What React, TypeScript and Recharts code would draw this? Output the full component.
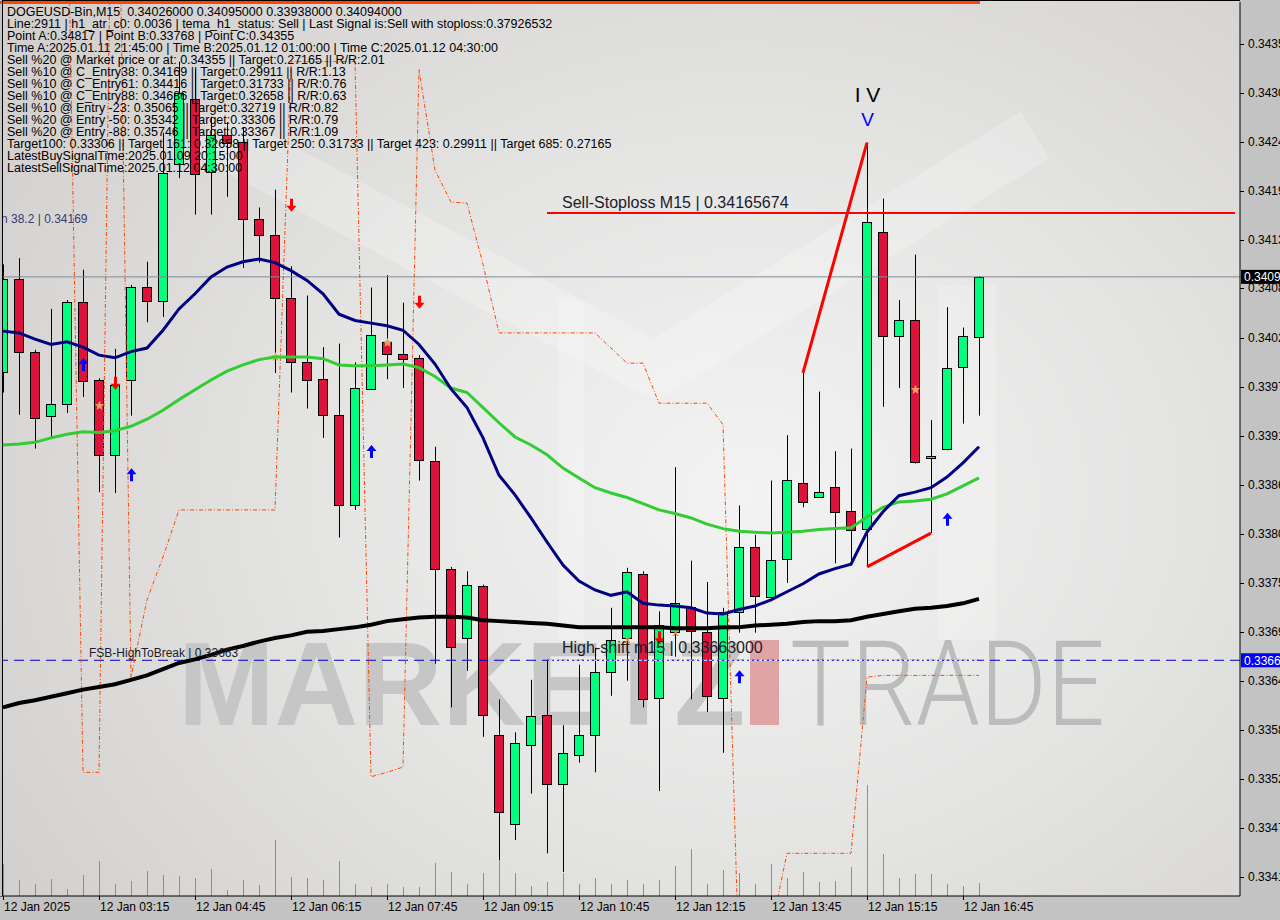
import React from 'react'
import { ComposedChart, Bar, Line, XAxis, YAxis, ReferenceLine, ReferenceDot } from 'recharts'

// DOGEUSD-Bin M15, 12 Jan 2025 01:45 .. 17:00
const timeLabels = ['12 Jan 2025', '12 Jan 03:15', '12 Jan 04:45', '12 Jan 06:15', '12 Jan 07:45', '12 Jan 09:15', '12 Jan 10:45', '12 Jan 12:15', '12 Jan 13:45', '12 Jan 15:15', '12 Jan 16:45']
const labelEvery = 6

const opens = [0.33987, 0.34092, 0.3401, 0.33938, 0.33951, 0.34066, 0.33978, 0.33894, 0.33978, 0.34083, 0.34067, 0.34221, 0.34294, 0.34212, 0.34254, 0.34246, 0.34159, 0.34141, 0.3407, 0.33998, 0.33979, 0.33939, 0.33837, 0.33968, 0.34021, 0.34007, 0.34003, 0.33887, 0.33766, 0.33688, 0.33747, 0.33579, 0.33479, 0.33568, 0.33601, 0.33524, 0.33557, 0.33579, 0.3365, 0.33688, 0.3376, 0.33621, 0.33695, 0.33723, 0.33695, 0.33621, 0.33717, 0.3379, 0.33734, 0.33777, 0.33862, 0.33847, 0.33858, 0.33831, 0.33811, 0.34145, 0.34027, 0.34046, 0.3389, 0.33901, 0.33993, 0.34026]
const highs = [0.34108, 0.34115, 0.34012, 0.34058, 0.34068, 0.34102, 0.3398, 0.34013, 0.34085, 0.34111, 0.34256, 0.34336, 0.34327, 0.34274, 0.34268, 0.34262, 0.34172, 0.34192, 0.34106, 0.34073, 0.34015, 0.34019, 0.33998, 0.34082, 0.34096, 0.34065, 0.34006, 0.33903, 0.33768, 0.33763, 0.33748, 0.33619, 0.33582, 0.33641, 0.33664, 0.3359, 0.33658, 0.33677, 0.33722, 0.33767, 0.33763, 0.33718, 0.3388, 0.33775, 0.33751, 0.33722, 0.33837, 0.33804, 0.33865, 0.33916, 0.33986, 0.33965, 0.33898, 0.33901, 0.34245, 0.34182, 0.34068, 0.34119, 0.33933, 0.3406, 0.34037, 0.34095]
const lows = [0.33964, 0.33939, 0.33901, 0.33914, 0.33941, 0.33959, 0.33852, 0.33851, 0.33938, 0.34043, 0.34049, 0.34205, 0.34164, 0.34164, 0.34184, 0.34104, 0.3411, 0.33986, 0.33964, 0.33946, 0.33913, 0.33801, 0.33832, 0.33967, 0.33979, 0.33969, 0.33865, 0.33659, 0.3361, 0.33651, 0.33577, 0.33438, 0.33461, 0.33513, 0.33446, 0.33425, 0.33548, 0.33537, 0.33623, 0.3364, 0.3361, 0.33516, 0.33667, 0.33619, 0.33605, 0.33559, 0.33694, 0.33694, 0.33733, 0.3375, 0.33835, 0.33846, 0.33772, 0.33772, 0.33768, 0.33948, 0.33969, 0.33884, 0.33806, 0.33899, 0.33929, 0.33938]
const closes = [0.34092, 0.3401, 0.33935, 0.33951, 0.34066, 0.33977, 0.33894, 0.33973, 0.34083, 0.34067, 0.34211, 0.34301, 0.3421, 0.34254, 0.34244, 0.34159, 0.34141, 0.3407, 0.33998, 0.33978, 0.33939, 0.33837, 0.33969, 0.34029, 0.34007, 0.34002, 0.33888, 0.33766, 0.33678, 0.33748, 0.33601, 0.33492, 0.3357, 0.336, 0.33524, 0.33559, 0.33579, 0.3365, 0.33686, 0.33762, 0.33619, 0.33703, 0.33727, 0.33696, 0.33623, 0.33717, 0.3379, 0.33735, 0.33776, 0.33866, 0.33841, 0.33852, 0.3383, 0.3381, 0.34156, 0.34027, 0.34046, 0.33886, 0.33893, 0.33992, 0.34027, 0.34094]
const tickVolume = [320, 160, 120, 170, 70, 210, 350, 120, 150, 250, 210, 200, 180, 270, 60, 160, 110, 560, 190, 180, 160, 350, 120, 90, 120, 90, 90, 330, 240, 120, 230, 350, 230, 100, 140, 230, 120, 180, 120, 160, 120, 160, 300, 470, 120, 260, 230, 120, 320, 180, 240, 140, 150, 290, 1110, 420, 180, 220, 220, 120, 100, 130]

const maFast = [0.34033, 0.34031, 0.34024, 0.34018, 0.34021, 0.34015, 0.34006, 0.34003, 0.3401, 0.34014, 0.34034, 0.34058, 0.34075, 0.34094, 0.34105, 0.34111, 0.34114, 0.3411, 0.34101, 0.3409, 0.34075, 0.34052, 0.34045, 0.34042, 0.34039, 0.34034, 0.34018, 0.33996, 0.33968, 0.33947, 0.33913, 0.33871, 0.33849, 0.33823, 0.33796, 0.3377, 0.33752, 0.33742, 0.33736, 0.3374, 0.33727, 0.33725, 0.33724, 0.33722, 0.33716, 0.33715, 0.3372, 0.33724, 0.33731, 0.3374, 0.33749, 0.3376, 0.33766, 0.33771, 0.33807, 0.3383, 0.33848, 0.33852, 0.33857, 0.33869, 0.33885, 0.33903]
const maMid = [0.33905, 0.33906, 0.33908, 0.33913, 0.33917, 0.3392, 0.33919, 0.33921, 0.33926, 0.33934, 0.33944, 0.33956, 0.33967, 0.33978, 0.33988, 0.33995, 0.34001, 0.34004, 0.34004, 0.34004, 0.34002, 0.33995, 0.33994, 0.33994, 0.33995, 0.33996, 0.33992, 0.33982, 0.33969, 0.33964, 0.33947, 0.3393, 0.33914, 0.33905, 0.33894, 0.33879, 0.33868, 0.33857, 0.33851, 0.33846, 0.33839, 0.33832, 0.33828, 0.33823, 0.33816, 0.33811, 0.33808, 0.33807, 0.33806, 0.33807, 0.33808, 0.3381, 0.33811, 0.33812, 0.33824, 0.33835, 0.33841, 0.33842, 0.33844, 0.3385, 0.33859, 0.33868]
const maSlow = [0.3361, 0.33615, 0.33618, 0.33622, 0.33626, 0.3363, 0.33633, 0.33636, 0.33641, 0.33646, 0.33653, 0.3366, 0.33664, 0.33669, 0.33675, 0.33679, 0.33684, 0.33688, 0.33691, 0.33695, 0.33696, 0.33698, 0.337, 0.33703, 0.33707, 0.33709, 0.33711, 0.33712, 0.33712, 0.33711, 0.33708, 0.33707, 0.33706, 0.33705, 0.33704, 0.33702, 0.337, 0.337, 0.337, 0.337, 0.337, 0.337, 0.33699, 0.33699, 0.33699, 0.337, 0.337, 0.33702, 0.33703, 0.33704, 0.33706, 0.33707, 0.33707, 0.33708, 0.33712, 0.33715, 0.33718, 0.33721, 0.33722, 0.33724, 0.33727, 0.33732]
const stopBand = [0.34574, 0.34574, 0.34574, 0.34574, 0.34574, 0.33537, 0.33537, 0.34855, 0.33644, 0.33731, 0.33779, 0.33832, 0.33832, 0.33832, 0.33832, 0.33832, 0.33832, 0.33832, 0.34336, 0.34336, 0.34336, 0.34336, 0.34336, 0.33532, 0.33537, 0.33543, 0.34327, 0.34214, 0.34178, 0.34177, 0.34108, 0.34031, 0.34031, 0.34031, 0.34031, 0.34031, 0.34031, 0.34031, 0.34014, 0.33997, 0.33997, 0.33952, 0.33952, 0.33952, 0.33952, 0.33928, 0.33319, 0.33326, 0.3336, 0.33446, 0.33446, 0.33446, 0.33446, 0.33446, 0.33644, 0.33646, 0.33646, 0.33646, 0.33646, 0.33646, 0.33646, 0.33646]

const buyArrowBars = [5, 8, 23, 46, 59]
const buyArrowPrices = [0.33995, 0.33871, 0.33897, 0.33644, 0.33821]
const sellArrowBars = [7, 18, 26, 41]
const sellArrowPrices = [0.33975, 0.34175, 0.34066, 0.33689]
const starBars = [6, 17, 24, 57]
const starPrices = [0.33949, 0.34004, 0.3402, 0.33967]
const crossBars = [39, 42]
const crossPrices = [0.33687, 0.33695]

const waveHighBars = [50, 54]
const waveHighPrices = [0.33986, 0.34245]
const waveLowBars = [54, 58]
const waveLowPrices = [0.33768, 0.33806]
const waveLabelBar = 54

const sellStoploss = 0.34165674
const highShift = 0.33663
const lastPrice = 0.34094
const fibLevel = 0.34169

const yTicks = [0.33419, 0.33474, 0.33529, 0.33585, 0.3364, 0.33695, 0.3375, 0.33805, 0.3386, 0.33915, 0.3397, 0.34025, 0.34081, 0.34136, 0.34191, 0.34246, 0.34301, 0.34356]

const infoLines = [
  'DOGEUSD-Bin,M15  0.34026000 0.34095000 0.33938000 0.34094000',
  'Line:2911 | h1_atr_c0: 0.0036 | tema_h1_status: Sell | Last Signal is:Sell with stoploss:0.37926532',
  'Point A:0.34817 | Point B:0.33768 | Point C:0.34355',
  'Time A:2025.01.11 21:45:00 | Time B:2025.01.12 01:00:00 | Time C:2025.01.12 04:30:00',
  'Sell %20 @ Market price or at: 0.34355 || Target:0.27165 || R/R:2.01',
  'Sell %10 @ C_Entry38: 0.34169 || Target:0.29911 || R/R:1.13',
  'Sell %10 @ C_Entry61: 0.34416 || Target:0.31733 || R/R:0.76',
  'Sell %10 @ C_Entry88: 0.34686 || Target:0.32658 || R/R:0.63',
  'Sell %10 @ Entry -23: 0.35065 || Target:0.32719 || R/R:0.82',
  'Sell %20 @ Entry -50: 0.35342 || Target:0.33306 || R/R:0.79',
  'Sell %20 @ Entry -88: 0.35746 || Target:0.33367 || R/R:1.09',
  'Target100: 0.33306 || Target 161: 0.32658 || Target 250: 0.31733 || Target 423: 0.29911 || Target 685: 0.27165',
  'LatestBuySignalTime:2025.01.09 20:15:00',
  'LatestSellSignalTime:2025.01.12 04:30:00',
]

const SLOTS = 78 // 62 bars + chart shift on the right

const pick = (bars: number[], prices: number[], i: number) => {
  const k = bars.indexOf(i)
  return k < 0 ? null : prices[k]
}

const rows = Array.from({ length: SLOTS }, (_, i) => {
  const has = i < opens.length
  return {
    i,
    hl: has ? [lows[i], highs[i]] : null,
    open: has ? opens[i] : null,
    high: has ? highs[i] : null,
    low: has ? lows[i] : null,
    close: has ? closes[i] : null,
    vol: has ? tickVolume[i] : null,
    fast: has ? maFast[i] : null,
    mid: has ? maMid[i] : null,
    slow: has ? maSlow[i] : null,
    band: has ? stopBand[i] : null,
    up: pick(buyArrowBars, buyArrowPrices, i),
    down: pick(sellArrowBars, sellArrowPrices, i),
    star: pick(starBars, starPrices, i),
    cross: pick(crossBars, crossPrices, i),
    zzHigh: pick(waveHighBars, waveHighPrices, i),
    zzLow: pick(waveLowBars, waveLowPrices, i),
    wave: i === waveLabelBar,
  }
})

const FONT = '"Liberation Sans", Arial, sans-serif'

const upArrow = (x: number, y: number) =>
  `M${x},${y - 7} L${x + 5},${y - 1} L${x + 1.5},${y - 1} L${x + 1.5},${y + 6} L${x - 1.5},${y + 6} L${x - 1.5},${y - 1} L${x - 5},${y - 1} Z`
const downArrow = (x: number, y: number) =>
  `M${x},${y + 7} L${x + 5},${y + 1} L${x + 1.5},${y + 1} L${x + 1.5},${y - 6} L${x - 1.5},${y - 6} L${x - 1.5},${y + 1} L${x - 5},${y + 1} Z`
const starPath = (x: number, y: number) => {
  let d = ''
  for (let k = 0; k < 10; k++) {
    const r = k % 2 === 0 ? 5 : 2.2
    const a = -Math.PI / 2 + (k * Math.PI) / 5
    d += `${k === 0 ? 'M' : 'L'}${x + r * Math.cos(a)},${y + r * Math.sin(a)} `
  }
  return d + 'Z'
}

function Candle(props: any) {
  const { x, y, width, height, payload } = props
  if (!payload || payload.open == null || !height) return null
  const k = height / (payload.high - payload.low)
  const py = (v: number) => y + (payload.high - v) * k
  const cx = Math.round(x + width / 2) + 0.5
  const bull = payload.close >= payload.open
  const top = Math.round(py(Math.max(payload.open, payload.close))) + 0.5
  const bot = Math.round(py(Math.min(payload.open, payload.close))) + 0.5
  const left = Math.round(x) + 0.5
  return (
    <g>
      <line x1={cx} x2={cx} y1={y} y2={y + height} stroke="#000" strokeWidth={1} />
      <rect x={left} y={top} width={width - 1} height={Math.max(bot - top, 1)} fill={bull ? '#00ff7f' : '#dc143c'} stroke="#000" strokeWidth={1} />
      {payload.star != null && <path d={starPath(cx, py(payload.star))} fill="#e2a55c" />}
      {payload.cross != null && (
        <text x={cx} y={py(payload.cross) + 4} textAnchor="middle" fontSize={11} fontWeight="bold" fill="#f08a30" fontFamily={FONT}>x</text>
      )}
      {payload.up != null && <path d={upArrow(cx, py(payload.up))} fill="#0000ff" />}
      {payload.down != null && <path d={downArrow(cx, py(payload.down))} fill="#ff0000" />}
      {payload.wave && (
        <g fontFamily={FONT} textAnchor="middle">
          <text x={cx} y={y - 41} fontSize={21} fill="#000">I V</text>
          <text x={cx} y={y - 17} fontSize={19} fill="#0000ff">V</text>
        </g>
      )}
    </g>
  )
}

function VolumeTick(props: any) {
  const { x, y, width, height, payload } = props
  if (!payload || payload.vol == null) return null
  const cx = Math.round(x + width / 2) + 0.5
  return <line x1={cx} x2={cx} y1={y} y2={y + height} stroke="#32cd32" strokeWidth={1} />
}

function XTick(props: any) {
  const { x, y, payload } = props
  const idx = payload.value
  if (idx % labelEvery !== 0 || idx / labelEvery >= timeLabels.length) return <g />
  const lx = Math.round(x) + 0.5
  return (
    <g>
      <line x1={lx} x2={lx} y1={y - 4} y2={y} stroke="#000" />
      <text x={x + 1} y={y + 11} fontSize={12} fill="#000" fontFamily={FONT}>{timeLabels[idx / labelEvery]}</text>
    </g>
  )
}

function YTick(props: any) {
  const { x, y, payload } = props
  const ly = Math.round(y) + 0.5
  return (
    <g>
      <line x1={x - 4} x2={x} y1={ly} y2={ly} stroke="#000" />
      <text x={x + 4} y={y + 4} fontSize={12} fill="#000" fontFamily={FONT}>{payload.value.toFixed(5)}</text>
    </g>
  )
}

const priceTag = (text: string, bg: string) => (p: any) => {
  const vb = p.viewBox
  if (!vb) return null
  const x = vb.x + vb.width + 1
  return (
    <g>
      <rect x={x} y={vb.y - 7} width={44} height={14} fill={bg} />
      <text x={x + 3} y={vb.y + 4.5} fontSize={12} fill="#fff" fontFamily={FONT}>{text}</text>
    </g>
  )
}

const lineText = (text: string, dx: number, dy: number, size: number) => (p: any) => {
  const vb = p.viewBox
  if (!vb) return null
  return (
    <text x={vb.x + dx} y={vb.y + dy} fontSize={size} fill="#1c1c2a" fontFamily={FONT}>{text}</text>
  )
}

function Watermark() {
  return (
    <svg width={1280} height={920} style={{ position: 'absolute', left: 0, top: 0 }}>
      <polyline points="205,130 655,370 1035,135" fill="none" stroke="#ffffff" strokeOpacity={0.22} strokeWidth={55} strokeLinejoin="round" />
      <rect x={558} y={300} width={26} height={340} fill="#ffffff" opacity={0.22} />
      <rect x={938} y={285} width={58} height={355} fill="#ffffff" opacity={0.2} />
      <text x={178} y={725} fontFamily={FONT} fontWeight="bold" fontSize={119} textLength={567} lengthAdjust="spacingAndGlyphs" fill="#c6c6c6">MARKETZ</text>
      <rect x={750} y={640} width={29} height={85} fill="#e0a4a4" />
      <text x={790} y={725} fontFamily="Roboto, sans-serif" fontWeight={300} fontSize={119} textLength={315} lengthAdjust="spacingAndGlyphs" fill="#bcbcbc">TRADE</text>
    </svg>
  )
}

export default function App() {
  return (
    <div style={{ position: 'fixed', left: 0, top: 0, width: 1280, height: 920, overflow: 'hidden', background: '#c3c3c3', fontFamily: FONT }}>
      <div
        style={{
          position: 'absolute', left: 2, top: 1, width: 1238, height: 895,
          background: 'radial-gradient(ellipse 70% 80% at 60% 55%, #f3f3f3 0%, #e4e4e3 50%, #d3d1cf 100%)',
        }}
      />
      <Watermark />
      <div style={{ position: 'absolute', left: -5, top: 0 }}>
        <ComposedChart width={1285} height={920} data={rows} margin={{ top: 2, right: 0, bottom: 0, left: 0 }}>
          <XAxis dataKey="i" type="category" allowDuplicatedCategory={false} height={24} padding={{ left: 0, right: -3 }} interval={0} tickLine={false} tickSize={4} tickMargin={0} axisLine={{ stroke: '#000' }} tick={<XTick />} />
          <XAxis xAxisId="vx" dataKey="i" type="category" allowDuplicatedCategory={false} hide padding={{ left: 0, right: -3 }} />
          <YAxis yAxisId="p" orientation="right" type="number" width={40} domain={[0.33398, 0.34403]} allowDataOverflow ticks={yTicks} interval={0} tickLine={false} tickSize={4} tickMargin={0} axisLine={{ stroke: '#000' }} tick={<YTick />} />
          <YAxis yAxisId="v" type="number" hide domain={[0, 8940]} allowDataOverflow />

          <Bar xAxisId="vx" yAxisId="v" dataKey="vol" barSize={2} shape={(p: any) => <VolumeTick {...p} />} isAnimationActive={false} />

          <ReferenceLine yAxisId="p" y={lastPrice} stroke="#7d8b99" strokeWidth={1} label={priceTag(lastPrice.toFixed(5), '#000')} />
          <ReferenceLine yAxisId="p" y={highShift} stroke="#0000cd" strokeWidth={1} strokeDasharray="10 6" label={priceTag(highShift.toFixed(5), '#0000ff')} />
          <ReferenceLine yAxisId="p" segment={[{ x: 34, y: highShift }, { x: 61, y: highShift }]} stroke="#ffffff" strokeWidth={1} />
          <ReferenceLine yAxisId="p" segment={[{ x: 34, y: highShift }, { x: 61, y: highShift }]} stroke="#0000cd" strokeWidth={1} strokeDasharray="2 3" label={lineText('High-shift m15 | 0.33663000', 15, -7, 16)} />
          <ReferenceLine yAxisId="p" segment={[{ x: 34, y: sellStoploss }, { x: 77, y: sellStoploss }]} stroke="#ff0000" strokeWidth={2} label={lineText('Sell-Stoploss M15 | 0.34165674', 15, -5, 16)} />
          <ReferenceDot yAxisId="p" x={5} y={highShift} r={0} shape={(p: any) => (
            <text x={p.cx + 6} y={p.cy - 3} fontSize={12} fill="#1c1c2a" fontFamily={FONT}>FSB-HighToBreak | 0.33663</text>
          )} />
          <ReferenceDot yAxisId="p" x={0} y={fibLevel} r={0} shape={(p: any) => (
            <text x={p.cx - 2} y={p.cy + 13} fontSize={12} fill="#3b3b6e" fontFamily={FONT}>n 38.2 | 0.34169</text>
          )} />

          <Line yAxisId="p" dataKey="band" stroke="#ff4500" strokeWidth={1} strokeDasharray="4 2 1 2" dot={false} activeDot={false} isAnimationActive={false} />
          <Bar yAxisId="p" dataKey="hl" barSize={10} shape={(p: any) => <Candle {...p} />} isAnimationActive={false} />
          <Line yAxisId="p" dataKey="slow" stroke="#000000" strokeWidth={4} dot={false} activeDot={false} isAnimationActive={false} />
          <Line yAxisId="p" dataKey="mid" stroke="#32cd32" strokeWidth={3} dot={false} activeDot={false} isAnimationActive={false} />
          <Line yAxisId="p" dataKey="fast" stroke="#000080" strokeWidth={3} dot={false} activeDot={false} isAnimationActive={false} />
          <Line yAxisId="p" dataKey="zzHigh" stroke="#ff0000" strokeWidth={3} connectNulls dot={false} activeDot={false} isAnimationActive={false} />
          <Line yAxisId="p" dataKey="zzLow" stroke="#ff0000" strokeWidth={3} connectNulls dot={false} activeDot={false} isAnimationActive={false} />
        </ComposedChart>
      </div>
      <div style={{ position: 'absolute', left: 0, top: 0, width: 2, height: 896, background: '#c3c3c3' }} />
      <div style={{ position: 'absolute', left: 0, top: 1, width: 980, height: 3, background: '#ff4500' }} />
      <div style={{ position: 'absolute', left: 2, top: 0, width: 1238, height: 896, borderLeft: '1px solid #000', borderTop: '1px solid #000', boxSizing: 'border-box', pointerEvents: 'none' }} />
      <div style={{ position: 'absolute', left: 7, top: 6, fontSize: 12.5, lineHeight: '12px', whiteSpace: 'pre', color: '#000' }}>
        {infoLines.map((t) => (
          <div key={t}>{t}</div>
        ))}
      </div>
    </div>
  )
}
